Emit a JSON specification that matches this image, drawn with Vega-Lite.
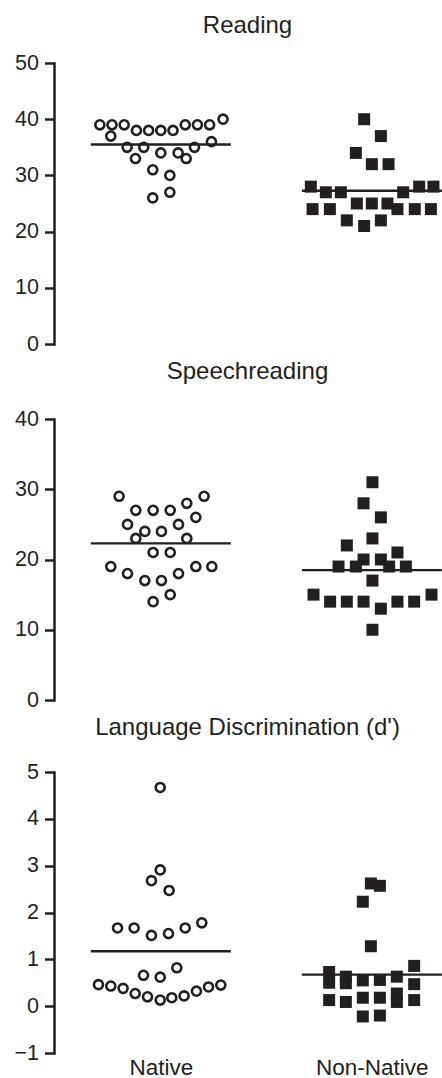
{
  "$schema": "https://vega.github.io/schema/vega-lite/v6.json",
  "padding": {"left": 13, "top": 14, "right": 0, "bottom": 0},
  "spacing": 5,
  "config": {
    "view": {"stroke": null},
    "font": "Liberation Sans",
    "title": {"fontSize": 24, "fontWeight": "normal", "color": "#231f20", "font": "Liberation Sans", "frame": "group"},
    "axisY": {"domainWidth": 2.5, "domainColor": "#231f20", "domainCap": "square", "tickWidth": 2.5, "tickColor": "#231f20", "tickSize": 9.5, "labelFontSize": 21.5, "labelColor": "#231f20", "labelPadding": 6, "labelFont": "Liberation Sans", "grid": false, "title": null},
    "axisX": {"labelFontSize": 22.5, "labelColor": "#231f20", "labelFont": "Liberation Sans", "ticks": false, "tickSize": 0, "domain": false, "grid": false, "labelPadding": 3, "title": null, "labelAngle": 0}
  },
  "datasets": {
    "scores": [
      {"measure": "Reading", "group": "Native", "value": 40, "slot": 5.1},
      {"measure": "Reading", "group": "Native", "value": 39, "slot": -5.0},
      {"measure": "Reading", "group": "Native", "value": 39, "slot": -4.0},
      {"measure": "Reading", "group": "Native", "value": 39, "slot": -3.0},
      {"measure": "Reading", "group": "Native", "value": 39, "slot": 2.0},
      {"measure": "Reading", "group": "Native", "value": 39, "slot": 3.0},
      {"measure": "Reading", "group": "Native", "value": 39, "slot": 4.0},
      {"measure": "Reading", "group": "Native", "value": 38, "slot": -2.0},
      {"measure": "Reading", "group": "Native", "value": 38, "slot": -1.0},
      {"measure": "Reading", "group": "Native", "value": 38, "slot": 0.0},
      {"measure": "Reading", "group": "Native", "value": 38, "slot": 1.0},
      {"measure": "Reading", "group": "Native", "value": 37, "slot": -4.1},
      {"measure": "Reading", "group": "Native", "value": 36, "slot": 4.15},
      {"measure": "Reading", "group": "Native", "value": 35, "slot": -2.76},
      {"measure": "Reading", "group": "Native", "value": 35, "slot": -1.4},
      {"measure": "Reading", "group": "Native", "value": 35, "slot": 2.76},
      {"measure": "Reading", "group": "Native", "value": 34, "slot": 0.0},
      {"measure": "Reading", "group": "Native", "value": 34, "slot": 1.42},
      {"measure": "Reading", "group": "Native", "value": 33, "slot": -2.08},
      {"measure": "Reading", "group": "Native", "value": 33, "slot": 2.08},
      {"measure": "Reading", "group": "Native", "value": 31, "slot": -0.66},
      {"measure": "Reading", "group": "Native", "value": 30, "slot": 0.74},
      {"measure": "Reading", "group": "Native", "value": 27, "slot": 0.74},
      {"measure": "Reading", "group": "Native", "value": 26, "slot": -0.66},
      {"measure": "Reading", "group": "Non-Native", "value": 40, "slot": -0.63},
      {"measure": "Reading", "group": "Non-Native", "value": 37, "slot": 0.74},
      {"measure": "Reading", "group": "Non-Native", "value": 34, "slot": -1.31},
      {"measure": "Reading", "group": "Non-Native", "value": 32, "slot": 0.0},
      {"measure": "Reading", "group": "Non-Native", "value": 32, "slot": 1.37},
      {"measure": "Reading", "group": "Non-Native", "value": 28, "slot": -5.0},
      {"measure": "Reading", "group": "Non-Native", "value": 28, "slot": 3.88},
      {"measure": "Reading", "group": "Non-Native", "value": 28, "slot": 5.05},
      {"measure": "Reading", "group": "Non-Native", "value": 27, "slot": -3.77},
      {"measure": "Reading", "group": "Non-Native", "value": 27, "slot": -2.54},
      {"measure": "Reading", "group": "Non-Native", "value": 27, "slot": 2.57},
      {"measure": "Reading", "group": "Non-Native", "value": 25, "slot": -1.23},
      {"measure": "Reading", "group": "Non-Native", "value": 25, "slot": 0.0},
      {"measure": "Reading", "group": "Non-Native", "value": 25, "slot": 1.28},
      {"measure": "Reading", "group": "Non-Native", "value": 24, "slot": -4.86},
      {"measure": "Reading", "group": "Non-Native", "value": 24, "slot": -3.44},
      {"measure": "Reading", "group": "Non-Native", "value": 24, "slot": 2.1},
      {"measure": "Reading", "group": "Non-Native", "value": 24, "slot": 3.52},
      {"measure": "Reading", "group": "Non-Native", "value": 24, "slot": 4.84},
      {"measure": "Reading", "group": "Non-Native", "value": 22, "slot": -2.05},
      {"measure": "Reading", "group": "Non-Native", "value": 22, "slot": 0.74},
      {"measure": "Reading", "group": "Non-Native", "value": 21, "slot": -0.63},
      {"measure": "Speechreading", "group": "Native", "value": 29, "slot": -3.42},
      {"measure": "Speechreading", "group": "Native", "value": 29, "slot": 3.55},
      {"measure": "Speechreading", "group": "Native", "value": 28, "slot": 2.13},
      {"measure": "Speechreading", "group": "Native", "value": 27, "slot": -2.05},
      {"measure": "Speechreading", "group": "Native", "value": 27, "slot": -0.63},
      {"measure": "Speechreading", "group": "Native", "value": 27, "slot": 0.77},
      {"measure": "Speechreading", "group": "Native", "value": 26, "slot": 2.87},
      {"measure": "Speechreading", "group": "Native", "value": 25, "slot": -2.73},
      {"measure": "Speechreading", "group": "Native", "value": 25, "slot": 1.45},
      {"measure": "Speechreading", "group": "Native", "value": 24, "slot": -1.31},
      {"measure": "Speechreading", "group": "Native", "value": 24, "slot": 0.05},
      {"measure": "Speechreading", "group": "Native", "value": 23, "slot": -2.05},
      {"measure": "Speechreading", "group": "Native", "value": 23, "slot": 2.13},
      {"measure": "Speechreading", "group": "Native", "value": 21, "slot": -0.63},
      {"measure": "Speechreading", "group": "Native", "value": 21, "slot": 0.77},
      {"measure": "Speechreading", "group": "Native", "value": 19, "slot": -4.1},
      {"measure": "Speechreading", "group": "Native", "value": 19, "slot": 2.87},
      {"measure": "Speechreading", "group": "Native", "value": 19, "slot": 4.18},
      {"measure": "Speechreading", "group": "Native", "value": 18, "slot": -2.73},
      {"measure": "Speechreading", "group": "Native", "value": 18, "slot": 1.45},
      {"measure": "Speechreading", "group": "Native", "value": 17, "slot": -1.31},
      {"measure": "Speechreading", "group": "Native", "value": 17, "slot": 0.05},
      {"measure": "Speechreading", "group": "Native", "value": 15, "slot": 0.77},
      {"measure": "Speechreading", "group": "Native", "value": 14, "slot": -0.63},
      {"measure": "Speechreading", "group": "Non-Native", "value": 31, "slot": 0.05},
      {"measure": "Speechreading", "group": "Non-Native", "value": 28, "slot": -0.68},
      {"measure": "Speechreading", "group": "Non-Native", "value": 26, "slot": 0.74},
      {"measure": "Speechreading", "group": "Non-Native", "value": 23, "slot": 0.05},
      {"measure": "Speechreading", "group": "Non-Native", "value": 22, "slot": -2.05},
      {"measure": "Speechreading", "group": "Non-Native", "value": 21, "slot": 2.1},
      {"measure": "Speechreading", "group": "Non-Native", "value": 20, "slot": -0.68},
      {"measure": "Speechreading", "group": "Non-Native", "value": 20, "slot": 0.74},
      {"measure": "Speechreading", "group": "Non-Native", "value": 19, "slot": -2.73},
      {"measure": "Speechreading", "group": "Non-Native", "value": 19, "slot": -1.31},
      {"measure": "Speechreading", "group": "Non-Native", "value": 19, "slot": 1.42},
      {"measure": "Speechreading", "group": "Non-Native", "value": 19, "slot": 2.79},
      {"measure": "Speechreading", "group": "Non-Native", "value": 17, "slot": 0.05},
      {"measure": "Speechreading", "group": "Non-Native", "value": 15, "slot": -4.78},
      {"measure": "Speechreading", "group": "Non-Native", "value": 15, "slot": 4.89},
      {"measure": "Speechreading", "group": "Non-Native", "value": 14, "slot": -3.42},
      {"measure": "Speechreading", "group": "Non-Native", "value": 14, "slot": -2.05},
      {"measure": "Speechreading", "group": "Non-Native", "value": 14, "slot": -0.68},
      {"measure": "Speechreading", "group": "Non-Native", "value": 14, "slot": 2.1},
      {"measure": "Speechreading", "group": "Non-Native", "value": 14, "slot": 3.47},
      {"measure": "Speechreading", "group": "Non-Native", "value": 13, "slot": 0.74},
      {"measure": "Speechreading", "group": "Non-Native", "value": 10, "slot": 0.05},
      {"measure": "Language", "group": "Native", "value": 4.67, "slot": -0.05},
      {"measure": "Language", "group": "Native", "value": 2.91, "slot": -0.05},
      {"measure": "Language", "group": "Native", "value": 2.68, "slot": -0.77},
      {"measure": "Language", "group": "Native", "value": 2.47, "slot": 0.68},
      {"measure": "Language", "group": "Native", "value": 1.67, "slot": -3.55},
      {"measure": "Language", "group": "Native", "value": 1.67, "slot": -2.19},
      {"measure": "Language", "group": "Native", "value": 1.51, "slot": -0.77},
      {"measure": "Language", "group": "Native", "value": 1.55, "slot": 0.63},
      {"measure": "Language", "group": "Native", "value": 1.67, "slot": 2.0},
      {"measure": "Language", "group": "Native", "value": 1.78, "slot": 3.36},
      {"measure": "Language", "group": "Native", "value": 0.82, "slot": 1.31},
      {"measure": "Language", "group": "Native", "value": 0.66, "slot": -1.42},
      {"measure": "Language", "group": "Native", "value": 0.62, "slot": -0.05},
      {"measure": "Language", "group": "Native", "value": 0.46, "slot": -5.11},
      {"measure": "Language", "group": "Native", "value": 0.43, "slot": -4.1},
      {"measure": "Language", "group": "Native", "value": 0.38, "slot": -3.09},
      {"measure": "Language", "group": "Native", "value": 0.27, "slot": -2.1},
      {"measure": "Language", "group": "Native", "value": 0.2, "slot": -1.09},
      {"measure": "Language", "group": "Native", "value": 0.13, "slot": -0.05},
      {"measure": "Language", "group": "Native", "value": 0.18, "slot": 0.9},
      {"measure": "Language", "group": "Native", "value": 0.22, "slot": 1.91},
      {"measure": "Language", "group": "Native", "value": 0.32, "slot": 2.92},
      {"measure": "Language", "group": "Native", "value": 0.41, "slot": 3.91},
      {"measure": "Language", "group": "Native", "value": 0.45, "slot": 4.92},
      {"measure": "Language", "group": "Non-Native", "value": 2.62, "slot": -0.08},
      {"measure": "Language", "group": "Non-Native", "value": 2.57, "slot": 0.66},
      {"measure": "Language", "group": "Non-Native", "value": 2.23, "slot": -0.74},
      {"measure": "Language", "group": "Non-Native", "value": 1.28, "slot": -0.08},
      {"measure": "Language", "group": "Non-Native", "value": 0.86, "slot": 3.47},
      {"measure": "Language", "group": "Non-Native", "value": 0.73, "slot": -3.5},
      {"measure": "Language", "group": "Non-Native", "value": 0.5, "slot": -3.5},
      {"measure": "Language", "group": "Non-Native", "value": 0.63, "slot": -2.13},
      {"measure": "Language", "group": "Non-Native", "value": 0.49, "slot": -2.13},
      {"measure": "Language", "group": "Non-Native", "value": 0.55, "slot": -0.74},
      {"measure": "Language", "group": "Non-Native", "value": 0.56, "slot": 0.66},
      {"measure": "Language", "group": "Non-Native", "value": 0.63, "slot": 2.05},
      {"measure": "Language", "group": "Non-Native", "value": 0.47, "slot": 3.47},
      {"measure": "Language", "group": "Non-Native", "value": 0.13, "slot": -3.5},
      {"measure": "Language", "group": "Non-Native", "value": 0.09, "slot": -2.13},
      {"measure": "Language", "group": "Non-Native", "value": 0.18, "slot": -0.74},
      {"measure": "Language", "group": "Non-Native", "value": 0.18, "slot": 0.66},
      {"measure": "Language", "group": "Non-Native", "value": 0.27, "slot": 2.05},
      {"measure": "Language", "group": "Non-Native", "value": 0.09, "slot": 2.05},
      {"measure": "Language", "group": "Non-Native", "value": 0.13, "slot": 3.47},
      {"measure": "Language", "group": "Non-Native", "value": -0.22, "slot": -0.74},
      {"measure": "Language", "group": "Non-Native", "value": -0.2, "slot": 0.66}
    ]
  },
  "vconcat": [
    {
      "title": {"text": "Reading", "offset": 14},
      "width": 387,
      "height": 281,
      "data": {"name": "scores"},
      "transform": [{"filter": "datum.measure === 'Reading'"}],
      "encoding": {
        "x": {"field": "group", "type": "nominal", "scale": {"type": "point", "domain": ["Native", "Non-Native"], "padding": 0.417, "align": 0.607}, "axis": null},
        "y": {"field": "value", "type": "quantitative", "scale": {"domain": [0, 50], "nice": false, "zero": false}, "axis": {"values": [0, 10, 20, 30, 40, 50]}}
      },
      "layer": [
        {"transform": [{"filter": "datum.group === 'Native'"}], "mark": {"type": "point", "shape": "circle", "size": 82, "strokeWidth": 2.6, "color": "#231f20", "filled": false, "opacity": 1}, "encoding": {"xOffset": {"field": "slot", "type": "quantitative", "scale": {"domain": [-6, 6], "range": [-73.2, 73.2]}}}},
        {"transform": [{"filter": "datum.group === 'Non-Native'"}], "mark": {"type": "square", "size": 144, "color": "#231f20", "opacity": 1}, "encoding": {"xOffset": {"field": "slot", "type": "quantitative", "scale": {"domain": [-6, 6], "range": [-73.2, 73.2]}}}},
        {"mark": {"type": "tick", "orient": "horizontal", "size": 140, "thickness": 2.3, "color": "#231f20", "opacity": 1}, "encoding": {"y": {"aggregate": "mean", "field": "value", "type": "quantitative"}}}
      ]
    },
    {
      "title": {"text": "Speechreading", "offset": 24},
      "width": 387,
      "height": 281,
      "data": {"name": "scores"},
      "transform": [{"filter": "datum.measure === 'Speechreading'"}],
      "encoding": {
        "x": {"field": "group", "type": "nominal", "scale": {"type": "point", "domain": ["Native", "Non-Native"], "padding": 0.417, "align": 0.607}, "axis": null},
        "y": {"field": "value", "type": "quantitative", "scale": {"domain": [0, 40], "nice": false, "zero": false}, "axis": {"values": [0, 10, 20, 30, 40]}}
      },
      "layer": [
        {"transform": [{"filter": "datum.group === 'Native'"}], "mark": {"type": "point", "shape": "circle", "size": 82, "strokeWidth": 2.6, "color": "#231f20", "filled": false, "opacity": 1}, "encoding": {"xOffset": {"field": "slot", "type": "quantitative", "scale": {"domain": [-6, 6], "range": [-73.2, 73.2]}}}},
        {"transform": [{"filter": "datum.group === 'Non-Native'"}], "mark": {"type": "square", "size": 144, "color": "#231f20", "opacity": 1}, "encoding": {"xOffset": {"field": "slot", "type": "quantitative", "scale": {"domain": [-6, 6], "range": [-73.2, 73.2]}}}},
        {"mark": {"type": "tick", "orient": "horizontal", "size": 140, "thickness": 2.3, "color": "#231f20", "opacity": 1}, "encoding": {"y": {"aggregate": "mean", "field": "value", "type": "quantitative"}}}
      ]
    },
    {
      "title": {"text": "Language Discrimination (d')", "offset": 21},
      "width": 387,
      "height": 281,
      "data": {"name": "scores"},
      "transform": [{"filter": "datum.measure === 'Language'"}],
      "encoding": {
        "x": {"field": "group", "type": "nominal", "scale": {"type": "point", "domain": ["Native", "Non-Native"], "padding": 0.417, "align": 0.607}, "axis": {"orient": "bottom"}},
        "y": {"field": "value", "type": "quantitative", "scale": {"domain": [-1, 5], "nice": false, "zero": false}, "axis": {"values": [-1, 0, 1, 2, 3, 4, 5]}}
      },
      "layer": [
        {"transform": [{"filter": "datum.group === 'Native'"}], "mark": {"type": "point", "shape": "circle", "size": 82, "strokeWidth": 2.6, "color": "#231f20", "filled": false, "opacity": 1}, "encoding": {"xOffset": {"field": "slot", "type": "quantitative", "scale": {"domain": [-6, 6], "range": [-73.2, 73.2]}}}},
        {"transform": [{"filter": "datum.group === 'Non-Native'"}], "mark": {"type": "square", "size": 144, "color": "#231f20", "opacity": 1}, "encoding": {"xOffset": {"field": "slot", "type": "quantitative", "scale": {"domain": [-6, 6], "range": [-73.2, 73.2]}}}},
        {"mark": {"type": "tick", "orient": "horizontal", "size": 140, "thickness": 2.3, "color": "#231f20", "opacity": 1}, "encoding": {"y": {"aggregate": "mean", "field": "value", "type": "quantitative"}}}
      ]
    }
  ]
}
